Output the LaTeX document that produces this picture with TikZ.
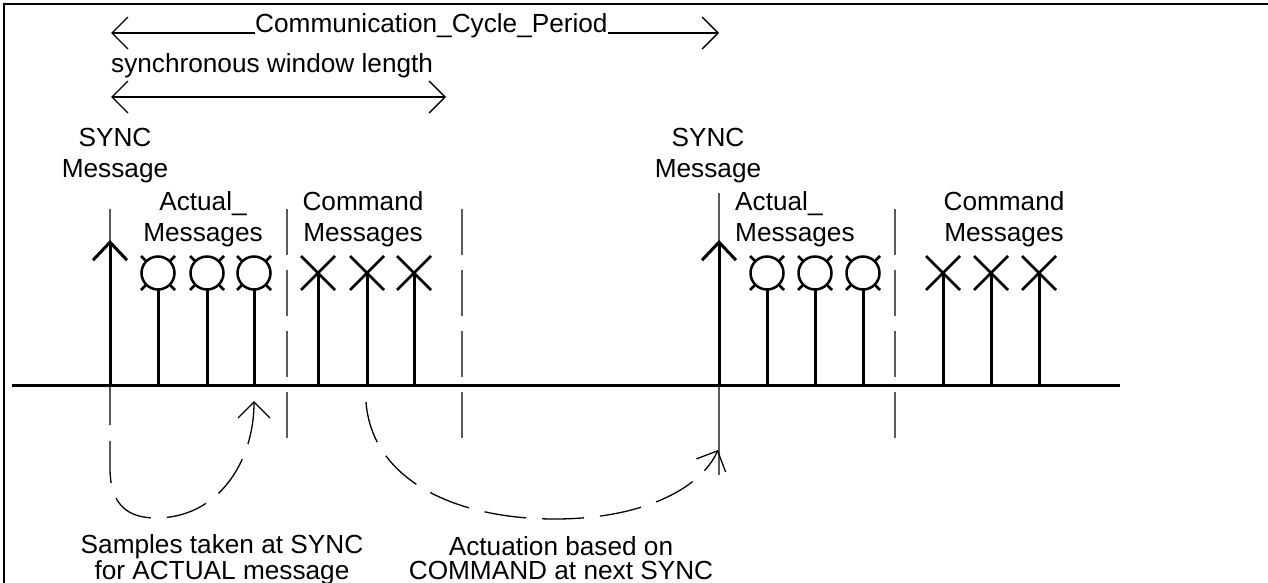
\documentclass[tikz,border=0pt]{standalone}
\usepackage{fontspec}
\setmainfont{Liberation Sans}
\usetikzlibrary{arrows.meta}
\definecolor{tdink}{HTML}{000000}
\definecolor{tdgrey}{HTML}{5A5A5A}
\tikzset{
  >={Straight Barb[length=16pt,width=32pt]},
  tlabel/.style={font=\fontsize{26.2}{31}\selectfont,align=center,inner sep=0pt},
  tnote/.style={font=\fontsize{26.2}{24}\selectfont,align=center,inner sep=0pt},
  stem/.style={draw=tdink,line width=3pt},
  msgline/.style={draw=tdink,line width=2.5pt},
  dimline/.style={draw=tdink,line width=1.4pt},
  window/.style={draw=tdgrey,line width=1.5pt,dash pattern=on 46pt off 15pt},
  flow/.style={draw=tdink,line width=1.3pt,dash pattern=on 42pt off 16pt}
}

\begin{document}
\begin{tikzpicture}[x=1pt,y=-1pt]
  \useasboundingbox (0,0) rectangle (1268,583);
  \draw[draw=tdink,line width=2pt] (4,583) -- (4,4) -- (1268,4);

  \coordinate (ccL) at (111,33);
  \coordinate (ccR) at (719,33);
  \node[tlabel,anchor=base west] (ccp) at (255,33) {Communication\_Cycle\_Period};
  \draw[dimline,<-] (ccL) -- (ccp.base west);
  \draw[dimline,->] (ccp.base east) -- (ccR);

  \node[tlabel,anchor=base west] (swl) at (111,73) {synchronous window length};
  \coordinate (swL) at (111,97);
  \coordinate (swR) at (446,97);
  \draw[dimline,<->] (swL) -- (swR);

  \node[tlabel,anchor=base] (sync1lbl) at (115,177) {SYNC\\Message};
  \node[tlabel,anchor=base] (act1lbl) at (203,241) {Actual\_\\Messages};
  \node[tlabel,anchor=base] (cmd1lbl) at (363,241) {Command\\Messages};
  \node[tlabel,anchor=base] (sync2lbl) at (708,177) {SYNC\\Message};
  \node[tlabel,align=left,anchor=base west] (act2lbl) at (735,241) {Actual\_\\Messages};
  \node[tlabel,anchor=base] (cmd2lbl) at (1004,241) {Command\\Messages};

  \foreach \n/\x in {w1/287,w2/462,w3/895}
    \draw[window] (\x,209) coordinate (\n) -- (\x,440);
  \draw[draw=tdgrey,line width=1.5pt] (719,193) coordinate (s2top) -- (719,475);

  \coordinate (axisL) at (12,385);
  \coordinate (axisR) at (1120,385);
  \draw[stem] (axisL) -- (axisR);

  \foreach \n/\x in {s1/110,s2/719} {
    \coordinate (\n) at (\x,385);
    \draw[stem,-{Straight Barb[length=18pt,width=34pt]}] (\n) -- (\x,240);
  }
  \foreach \n/\x in {a1/158,a2/207,a3/254,b1/767,b2/815,b3/863} {
    \coordinate (\n) at (\x,385);
    \draw[stem] (\n) -- (\x,290);
    \draw[msgline] (\x-17,256) -- (\x+17,290) (\x-17,290) -- (\x+17,256);
    \draw[msgline,fill=white] (\x,273) circle[radius=16.5pt];
  }
  \foreach \n/\x in {c1/318,c2/367,c3/414,d1/943,d2/991,d3/1039} {
    \coordinate (\n) at (\x,385);
    \draw[stem] (\n) -- (\x,273);
    \draw[msgline] (\x-17,256) -- (\x+17,290) (\x-17,290) -- (\x+17,256);
  }

  \coordinate (s1top) at (110,209);
  \coordinate (smpTip) at (254,401);
  \coordinate (actStart) at (366,402);
  \coordinate (actTip) at (718,450);
  \draw[flow,->] (s1top) -- (110,468) .. controls (110,505) and (128,518) .. (156,518)
    .. controls (218,518) and (254,462) .. (smpTip);
  \draw[flow,->] (actStart) .. controls (372,480) and (455,519) .. (555,519)
    .. controls (640,519) and (700,490) .. (actTip);

  \node[tnote,anchor=base] (smpl) at (222,579) {Samples taken at SYNC\\for ACTUAL message};
  \node[tnote,anchor=base] (actn) at (561,579) {Actuation based on\\COMMAND at next SYNC};
\end{tikzpicture}
\end{document}
